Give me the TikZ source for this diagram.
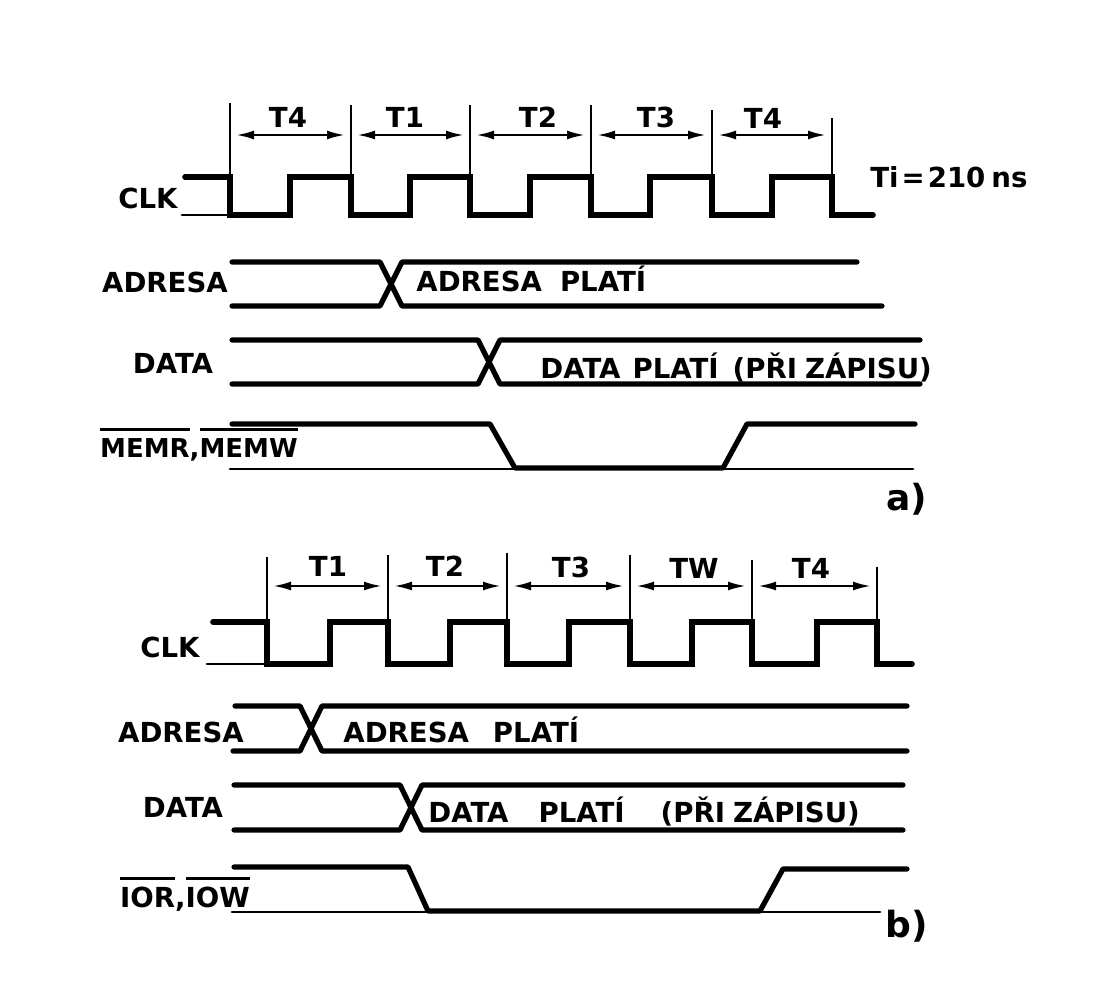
\documentclass[tikz,border=0pt]{standalone}
\usepackage{fontspec}
\setmainfont{DejaVu Sans}
\usetikzlibrary{arrows.meta}
\newcommand\ovl[1]{\setbox0\hbox{#1}\rlap{\raise\dimexpr\ht0+3.5pt\relax\hbox{\rule{\wd0}{1.5pt}}}\box0}
\begin{document}
\begin{tikzpicture}[x=0.5pt,y=-0.5pt,
  sig/.style={line width=2.6pt,line cap=round,line join=round},
  clk/.style={line width=2.8pt,line cap=round,line join=miter},
  base/.style={line width=1.4pt,line cap=round},
  tick/.style={line width=1.2pt},
  dim/.style={line width=1.2pt,{Latex[length=9pt,width=4.5pt]}-{Latex[length=9pt,width=4.5pt]},shorten <=3pt,shorten >=3pt},
  lbl/.style={inner sep=0pt,anchor=base,font=\fontsize{13.8pt}{16pt}\selectfont\bfseries},
  txt/.style={lbl,anchor=base west},
  part/.style={inner sep=0pt,anchor=base,font=\fontsize{18pt}{22pt}\selectfont\bfseries}]
\fill[white] (0,0) rectangle (1100,992);
\useasboundingbox (0,0) rectangle (1100,992);

% ================= part a =================
\foreach \n/\x/\t in {0/230/103,1/351/105,2/470/105,3/591/105,4/712/110,5/832/118} {
  \coordinate (ta\n) at (\x,135);
  \draw[tick] (\x,\t) -- (\x,215);
}
\draw[dim] (ta0) -- (ta1);
\draw[dim] (ta1) -- (ta2);
\draw[dim] (ta2) -- (ta3);
\draw[dim] (ta3) -- (ta4);
\draw[dim] (ta4) -- (ta5);
\node[lbl] (la1) at (288,127) {T4};
\node[lbl] (la2) at (405,127) {T1};
\node[lbl] (la3) at (538,127) {T2};
\node[lbl] (la4) at (656,127) {T3};
\node[lbl] (la5) at (763,128) {T4};
\node[txt] (ti) at (870,187) {Ti\hspace{1.5pt}=\hspace{1.5pt}210\hspace{3pt}ns};

\node[lbl] (clka) at (148,208) {CLK};
\draw[base] (182,215) -- (230,215);
\draw[clk] (185,177) -- (230,177) -- (230,215) -- (290,215) -- (290,177) -- (351,177)
  -- (351,215) -- (410,215) -- (410,177) -- (470,177) -- (470,215) -- (530,215)
  -- (530,177) -- (591,177) -- (591,215) -- (650,215) -- (650,177) -- (712,177)
  -- (712,215) -- (772,215) -- (772,177) -- (832,177) -- (832,215) -- (873,215);

\node[lbl] (adra) at (165,292) {ADRESA};
\draw[sig] (232,262) -- (380,262) -- (402,306) -- (882,306);
\draw[sig] (232,306) -- (380,306) -- (402,262) -- (857,262);
\node[txt] (adrpa) at (416,291) {ADRESA\hspace{9pt}PLATÍ};

\node[lbl] (data) at (173,373) {DATA};
\draw[sig] (232,340) -- (478,340) -- (500,384) -- (920,384);
\draw[sig] (232,384) -- (478,384) -- (500,340) -- (920,340);
\node[txt] (datpa) at (540,378) {DATA\hspace{6pt}PLATÍ\hspace{7pt}(PŘI\hspace{4pt}ZÁPISU)};

\node[lbl,font=\fontsize{13pt}{16pt}\selectfont\bfseries] (mema) at (199,457) {\ovl{MEMR},\ovl{MEMW}};
\draw[base] (230,469) -- (913,469);
\draw[sig] (232,424) -- (490,424) -- (515,468) -- (723,468) -- (747,424) -- (915,424);
\node[part] (pa) at (907,510) {a)};

% ================= part b =================
\foreach \n/\x/\t in {0/267/557,1/388/555,2/507/553,3/630/555,4/752/560,5/877/567} {
  \coordinate (tb\n) at (\x,586);
  \draw[tick] (\x,\t) -- (\x,664);
}
\draw[dim] (tb0) -- (tb1);
\draw[dim] (tb1) -- (tb2);
\draw[dim] (tb2) -- (tb3);
\draw[dim] (tb3) -- (tb4);
\draw[dim] (tb4) -- (tb5);
\node[lbl] (lb1) at (328,576) {T1};
\node[lbl] (lb2) at (445,576) {T2};
\node[lbl] (lb3) at (571,577) {T3};
\node[lbl] (lb4) at (694,578) {TW};
\node[lbl] (lb5) at (811,578) {T4};

\node[lbl] (clkb) at (170,657) {CLK};
\draw[base] (207,664) -- (267,664);
\draw[clk] (213,622) -- (267,622) -- (267,664) -- (330,664) -- (330,622) -- (388,622)
  -- (388,664) -- (450,664) -- (450,622) -- (507,622) -- (507,664) -- (569,664)
  -- (569,622) -- (630,622) -- (630,664) -- (692,664) -- (692,622) -- (752,622)
  -- (752,664) -- (817,664) -- (817,622) -- (877,622) -- (877,664) -- (912,664);

\node[lbl] (adrb) at (181,742) {ADRESA};
\draw[sig] (235,706) -- (300,706) -- (322,751) -- (907,751);
\draw[sig] (233,751) -- (300,751) -- (322,706) -- (907,706);
\node[txt] (adrpb) at (343,742) {ADRESA\hspace{12pt}PLATÍ};

\node[lbl] (datb) at (183,817) {DATA};
\draw[sig] (234,785) -- (400,785) -- (422,830) -- (903,830);
\draw[sig] (234,830) -- (400,830) -- (422,785) -- (903,785);
\node[txt] (datpb) at (428,822) {DATA\hspace{15pt}PLATÍ\hspace{18pt}(PŘI\hspace{4pt}ZÁPISU)};

\node[lbl] (iob) at (185,907) {\ovl{IOR},\ovl{IOW}};
\draw[base] (232,912) -- (880,912);
\draw[sig] (234,867) -- (408,867) -- (428,911) -- (760,911) -- (783,869) -- (907,869);
\node[part] (pb) at (907,937) {b)};
\end{tikzpicture}
\end{document}
